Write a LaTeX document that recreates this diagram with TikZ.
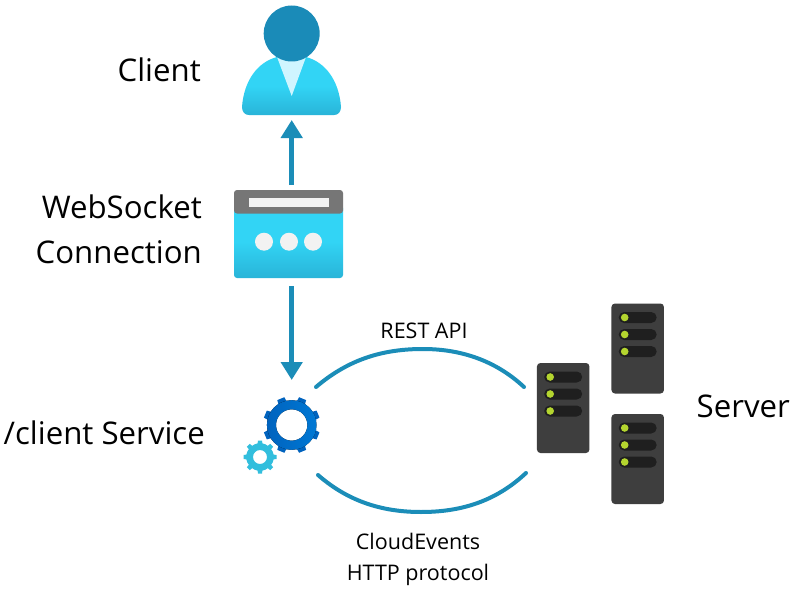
\documentclass[tikz,border=0pt]{standalone}
\usepackage{fontspec}
\setmainfont{Open Sans}
\definecolor{arrowblue}{HTML}{1B8DB8}
\definecolor{headblue}{HTML}{1A8BB8}
\definecolor{cyanA}{HTML}{32D4F5}
\definecolor{cyanB}{HTML}{29B4D8}
\definecolor{vlight}{HTML}{CFF5FF}
\definecolor{barGray}{HTML}{767676}
\definecolor{paleGray}{HTML}{F2F2F2}
\definecolor{gearBlue}{HTML}{0063BE}
\definecolor{gearBlueB}{HTML}{0078D4}
\definecolor{gearCyan}{HTML}{32BEDD}
\definecolor{srvBody}{HTML}{3E3E3E}
\definecolor{srvSlot}{HTML}{1F1F1F}
\definecolor{srvLed}{HTML}{B4D52F}
\usetikzlibrary{arrows.meta}
\tikzset{
  x=1pt,y=-1pt,
  bigtext/.style={font=\fontsize{31.2}{45}\selectfont,align=right,inner sep=0pt,anchor=east},
  smalltext/.style={font=\fontsize{21.5}{31}\selectfont,align=center,inner sep=0pt},
  link/.style={draw=arrowblue,line width=5pt,-{Triangle[length=18pt,width=21pt]}},
  curve/.style={draw=arrowblue,line width=4pt,line cap=round},
  serverbody/.style={fill=srvBody,rounded corners=3.5pt,minimum width=52.5pt,minimum height=90pt,inner sep=0pt,outer sep=0pt},
  pics/serverfront/.style={code={
    \foreach \r in {-31,-14,3}{
      \fill[srvSlot,rounded corners=5.5pt] (-19,\r-5.5) rectangle (19,\r+5.5);
      \fill[srvLed] (-13,\r) circle (3.8);
    }
  }}
}
\begin{document}
\begin{tikzpicture}
\useasboundingbox (0,0) rectangle (793,594);
\fill[white] (0,0) rectangle (793,594);

% client icon
\node[inner sep=0pt,outer sep=0pt,minimum width=99pt,minimum height=109pt] (client) at (291.7,60.5) {};
\shade[top color=cyanA,bottom color=cyanB,middle color=cyanA]
  (242,107) .. controls (244,80) and (258,62) .. (277,57) -- (306,57)
  .. controls (325,62) and (339,80) .. (341,107)
  .. controls (341,112) and (338,115) .. (334,115) -- (249,115)
  .. controls (245,115) and (242,112) .. (242,107) -- cycle;
\fill[vlight] (277,57) -- (306,57) -- (291.7,96) -- cycle;
\fill[headblue] (291.7,33.5) circle (28);

% websocket icon
\node[inner sep=0pt,outer sep=0pt,minimum width=109pt,minimum height=88pt] (ws) at (288.5,234) {};
\shade[top color=cyanA,bottom color=cyanB,middle color=cyanA,rounded corners=3pt]
  (234,205) -- (234,278) -- (343,278) -- (343,205) -- cycle;
\fill[barGray,rounded corners=3pt] (234,213.5) -- (234,190) -- (343,190) -- (343,213.5) -- cycle;
\fill[paleGray] (249,197.5) rectangle (329,207);
\fill[paleGray] (264,241.7) circle (9) (289,241.7) circle (9) (313,241.7) circle (9);

% service icon
\node[inner sep=0pt,outer sep=0pt,minimum width=74pt,minimum height=76pt] (service) at (281,435) {};
\begin{scope}[shift={(291.7,425)}]
  \foreach \a in {22.5,67.5,...,337.5}
    \fill[gearBlue,rotate=\a] (-4.6,-22) -- (-3.8,-28.5) -- (3.8,-28.5) -- (4.6,-22) -- cycle;
  \fill[even odd rule,left color=gearBlue,right color=gearBlueB] (0,0) circle (24.8) (0,0) circle (15.7);
\end{scope}
\begin{scope}[shift={(260,457)}]
  \foreach \a in {0,45,...,315}
    \fill[gearCyan,rotate=\a] (-2.6,-12) -- (-2,-16.5) -- (2,-16.5) -- (2.6,-12) -- cycle;
  \fill[gearCyan,even odd rule] (0,0) circle (13.8) (0,0) circle (7);
\end{scope}

% servers
\node[serverbody] (srvA) at (563.2,408) {};
\node[serverbody] (srvB) at (637.7,348.5) {};
\node[serverbody] (srvC) at (637.7,459) {};
\pic at (srvA) {serverfront};
\pic at (srvB) {serverfront};
\pic at (srvC) {serverfront};

% connectors
\path (ws.north -| client.south) ++(0,-5) coordinate (wsTop);
\path (client.south) ++(0,5) coordinate (clientTip);
\draw[link] (wsTop) -- (clientTip);
\path (ws.south -| client.south) ++(0,8) coordinate (wsBot);
\path (service.north -| client.south) ++(0,-17) coordinate (serviceTip);
\draw[link] (wsBot) -- (serviceTip);

\coordinate (restL) at (316,387);
\coordinate (restR) at (524,387);
\coordinate (ceL) at (318,475);
\coordinate (ceR) at (526,473);
\draw[curve] (restL) .. controls (350,358) and (385,349) .. (423,349) .. controls (460,349) and (495,360) .. (restR);
\draw[curve] (ceL) .. controls (350,503) and (385,512) .. (421,512) .. controls (460,512) and (495,502) .. (ceR);

% labels
\node[bigtext] (lblClient) at (201,70) {Client};
\node[bigtext] (lblWs) at (202,229.5) {WebSocket\\Connection};
\node[bigtext] (lblSvc) at (205,433) {/client Service};
\node[bigtext,anchor=west] (lblSrv) at (696.5,406.5) {Server};
\node[smalltext] (lblRest) at (424,330.5) {REST API};
\node[smalltext] (lblCe) at (418,559) {CloudEvents\\HTTP protocol};
\end{tikzpicture}
\end{document}
